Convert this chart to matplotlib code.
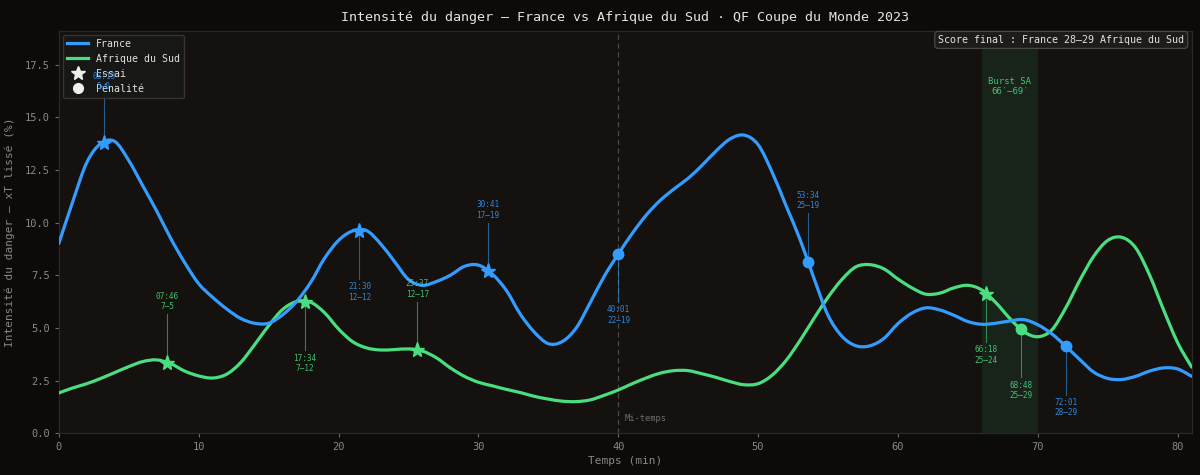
import numpy as np
import matplotlib
matplotlib.use("Agg")
import matplotlib.pyplot as plt
from matplotlib.lines import Line2D
from matplotlib.path import Path
from matplotlib.patches import PathPatch

# ---------------- data ----------------
minutes = list(range(0, 82))
france_xt = [9.0, 11.0, 12.85, 13.75, 13.85, 12.95, 11.75, 10.55, 9.25, 8.1,
             7.1, 6.45, 5.9, 5.45, 5.22, 5.22, 5.62, 6.25, 7.15, 8.3,
             9.15, 9.6, 9.62, 9.0, 8.15, 7.3, 7.02, 7.2, 7.5, 7.92,
             7.98, 7.55, 6.78, 5.65, 4.8, 4.25, 4.35, 5.0, 6.2, 7.45,
             8.5, 9.48, 10.35, 11.05, 11.6, 12.1, 12.72, 13.4, 13.97, 14.15,
             13.7, 12.4, 10.8, 9.2, 7.35, 5.6, 4.6, 4.15, 4.15, 4.5,
             5.2, 5.7, 5.95, 5.85, 5.6, 5.3, 5.17, 5.22, 5.33, 5.39,
             5.15, 4.72, 4.13, 3.5, 2.9, 2.6, 2.55, 2.7, 2.95, 3.1,
             3.05, 2.7]
sa_xt = [1.91, 2.15, 2.35, 2.6, 2.88, 3.16, 3.4, 3.48, 3.3, 2.95,
         2.72, 2.62, 2.8, 3.35, 4.2, 5.1, 5.87, 6.25, 6.22, 5.72,
         4.95, 4.35, 4.05, 3.95, 3.97, 4.0, 3.9, 3.58, 3.1, 2.7,
         2.42, 2.25, 2.08, 1.93, 1.75, 1.62, 1.52, 1.5, 1.58, 1.8,
         2.05, 2.35, 2.62, 2.85, 2.97, 2.97, 2.82, 2.65, 2.45, 2.3,
         2.35, 2.75, 3.45, 4.4, 5.45, 6.45, 7.3, 7.9, 8.0, 7.8,
         7.32, 6.9, 6.6, 6.65, 6.9, 7.02, 6.8, 6.2, 5.45, 4.82,
         4.58, 4.9, 5.95, 7.25, 8.4, 9.15, 9.3, 8.8, 7.5, 5.85,
         4.3, 3.14]

fr_event_times = [3.22, 21.5, 30.68, 40.02, 53.57, 72.02]
fr_event_types = ["try", "try", "try", "pen", "pen", "pen"]
fr_event_clock = ["03:13", "21:30", "30:41", "40:01", "53:34", "72:01"]
fr_event_score = ["5–0", "12–12", "17–19", "22–19", "25–19", "28–29"]
fr_event_side = ["up", "down", "up", "down", "up", "down"]

sa_event_times = [7.77, 17.57, 25.62, 66.3, 68.8]
sa_event_types = ["try", "try", "try", "try", "pen"]
sa_event_clock = ["07:46", "17:34", "25:37", "66:18", "68:48"]
sa_event_score = ["7–5", "7–12", "12–17", "25–24", "25–29"]
sa_event_side = ["up", "down", "up", "down", "down"]

burst_start, burst_end = 66, 70
halftime = 40

# ---------------- style ----------------
FIG_BG = "#0d0b09"
AX_BG = "#14110f"
BLUE = "#339cff"
GREEN = "#4ade80"
GRAY = "#8a8886"
MONO = ["DejaVu Sans Mono"]

plt.rcParams["font.family"] = MONO

fig = plt.figure(figsize=(12, 4.75), dpi=100, facecolor=FIG_BG)
ax = fig.add_axes([0.049, 0.088, 0.944, 0.847])
ax.set_facecolor(AX_BG)

ax.axvspan(burst_start, burst_end, color=GREEN, alpha=0.09, lw=0, zorder=1)
ax.axvline(halftime, color="#4a4846", lw=0.9, ls=(0, (4, 3)), zorder=1)
ax.text(halftime + 0.45, 0.72, "Mi-temps", color="#6f6d6b", fontsize=6.3,
        ha="left", va="center", zorder=2)
ax.text((burst_start + burst_end) / 2, 16.45, "Burst SA\n66′–69′", color=GREEN,
        fontsize=6.5, ha="center", va="center", linespacing=1.15, alpha=0.85, zorder=2)


def smooth_line(xs, ys, color):
    """Draw a Catmull-Rom curve (as cubic Bezier path) through the data points."""
    x = np.asarray(xs, float)
    y = np.asarray(ys, float)
    pts = np.column_stack([x, y])
    ext = np.vstack([pts[0], pts, pts[-1]])
    verts = [tuple(pts[0])]
    codes = [Path.MOVETO]
    for i in range(1, len(ext) - 2):
        p0, p1, p2, p3 = ext[i - 1], ext[i], ext[i + 1], ext[i + 2]
        c1 = p1 + (p2 - p0) / 6.0
        c2 = p2 - (p3 - p1) / 6.0
        verts += [tuple(c1), tuple(c2), tuple(p2)]
        codes += [Path.CURVE4] * 3
    patch = PathPatch(Path(verts, codes), facecolor="none", edgecolor=color,
                      lw=2.3, capstyle="round", joinstyle="round", zorder=3)
    ax.add_patch(patch)


smooth_line(minutes, sa_xt, GREEN)
smooth_line(minutes, france_xt, BLUE)


def draw_events(times, types, clock, score, side, series, color):
    for t, ty, c, s, sd in zip(times, types, clock, score, side):
        y = float(np.interp(t, minutes, series))
        if sd == "up":
            ax.plot([t, t], [y, y + 2.3], color=color, lw=0.8, alpha=0.55, zorder=2)
            ax.text(t, y + 2.45, f"{c}\n{s}", color=color, fontsize=5.6, ha="center",
                    va="bottom", linespacing=1.2, alpha=0.85, zorder=5)
        else:
            ax.plot([t, t], [y, y - 2.3], color=color, lw=0.8, alpha=0.55, zorder=2)
            ax.text(t, y - 2.45, f"{c}\n{s}", color=color, fontsize=5.6, ha="center",
                    va="top", linespacing=1.2, alpha=0.85, zorder=5)
        if ty == "try":
            ax.plot(t, y, marker="*", ms=11, color=color, mec=color, zorder=6)
        else:
            ax.plot(t, y, marker="o", ms=7.5, color=color, mec=color, zorder=6)


draw_events(fr_event_times, fr_event_types, fr_event_clock, fr_event_score,
            fr_event_side, france_xt, BLUE)
draw_events(sa_event_times, sa_event_types, sa_event_clock, sa_event_score,
            sa_event_side, sa_xt, GREEN)

ax.set_xlim(0, 81)
ax.set_ylim(0, 19.1)
ax.set_xticks(range(0, 81, 10))
ax.set_yticks(np.arange(0, 17.6, 2.5))
ax.tick_params(colors="#6e6c6a", labelcolor=GRAY, labelsize=7.5, length=3, width=0.8)
for sp in ax.spines.values():
    sp.set_color("#2a2725")
    sp.set_linewidth(0.9)

ax.set_xlabel("Temps (min)", color=GRAY, fontsize=8, labelpad=3)
ax.set_ylabel("Intensité du danger — xT lissé (%)", color=GRAY, fontsize=8, labelpad=7)
ax.set_title("Intensité du danger — France vs Afrique du Sud · QF Coupe du Monde 2023",
             color="#e6e4e1", fontsize=9.6, pad=7)

handles = [
    Line2D([0], [0], color=BLUE, lw=2.3, label="France"),
    Line2D([0], [0], color=GREEN, lw=2.3, label="Afrique du Sud"),
    Line2D([0], [0], color="#f2f0ed", marker="*", ms=10, lw=0, label="Essai"),
    Line2D([0], [0], color="#f2f0ed", marker="o", ms=7, lw=0, label="Pénalité"),
]
leg = ax.legend(handles=handles, loc="upper left", fontsize=7.1, frameon=True,
                facecolor="#181816", edgecolor="#3a3836", framealpha=0.9,
                borderaxespad=0.4, handlelength=2.2, labelspacing=0.5)
for txt in leg.get_texts():
    txt.set_color("#e4e2df")
leg.set_zorder(4)

ax.text(0.9935, 0.99, "Score final : France 28–29 Afrique du Sud", transform=ax.transAxes,
        ha="right", va="top", color="#e4e2df", fontsize=7.2, zorder=7,
        bbox=dict(boxstyle="round,pad=0.35", facecolor="#1e1c1a", edgecolor="#4a4846", lw=0.9))

fig.savefig("out.png", dpi=100, facecolor=FIG_BG)
